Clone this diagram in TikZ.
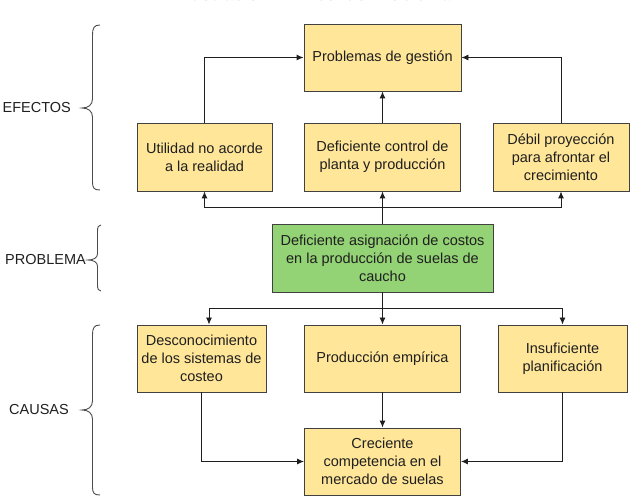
\documentclass[tikz,border=0pt]{standalone}
\usepackage{fontspec}
\setmainfont{Liberation Sans}
\usetikzlibrary{arrows.meta,calc}
\definecolor{boxy}{HTML}{FFE699}
\definecolor{boxg}{HTML}{93D275}
\definecolor{ink}{HTML}{1F1F1F}
\definecolor{ttl}{HTML}{808080}
\tikzset{
  box/.style={draw=ink!85, line width=0.9pt, fill=boxy, align=center, text=ink,
    font=\fontsize{14.5}{18}\selectfont, inner sep=2pt},
  gbox/.style={box, fill=boxg},
  arr/.style={draw=ink, line width=0.9pt, -{Latex[length=7pt,width=6pt]}},
  ln/.style={draw=ink, line width=0.9pt},
  lbl/.style={text=ink, font=\fontsize{14.5}{18}\selectfont, inner sep=0pt},
  brc/.style={draw=ink!80, line width=0.9pt},
}
\begin{document}
\begin{tikzpicture}[x=1pt,y=-1pt]
\useasboundingbox (0,0) rectangle (633,500);
\begin{scope}
\clip (0,0) rectangle (633,500);
\node[anchor=base, text=ttl, font=\fontsize{17.5}{20}\bfseries, inner sep=0pt] (title) at (316,0.8) {Ilustración 1. Árbol de Problema};
\end{scope}
% effects
\node[box, minimum width=157pt, minimum height=67pt] (pg) at (382.5,57.5) {Problemas de gestión};
\node[box, minimum width=135pt, minimum height=68pt] (ut) at (204.5,157) {Utilidad no acorde\\a la realidad};
\node[box, minimum width=156pt, minimum height=68pt] (dc) at (382.5,157) {Deficiente control de\\planta y producción};
\node[box, minimum width=136pt, minimum height=68pt] (db) at (561,157) {Débil proyección\\para afrontar el\\crecimiento};
% problem
\node[gbox, minimum width=221pt, minimum height=68pt] (pr) at (382.5,258) {Deficiente asignación de costos\\en la producción de suelas de\\caucho};
% causes
\node[box, minimum width=129pt, minimum height=67pt] (dsc) at (201.5,358.5) {Desconocimiento\\de los sistemas de\\costeo};
\node[box, minimum width=156pt, minimum height=67pt] (pe) at (382.5,358.5) {Producción empírica};
\node[box, minimum width=129pt, minimum height=67pt] (ins) at (562.5,358.5) {Insuficiente\\planificación};
\node[box, minimum width=156pt, minimum height=67pt] (cc) at (382.5,461.5) {Creciente\\competencia en el\\mercado de suelas};
% connectors top
\draw[arr] (ut.north) |- (pg.west);
\draw[arr] (db.north) |- (pg.east);
\draw[arr] (dc.north) -- (pg.south);
\coordinate (tb) at (382.5,207);
\draw[ln] (pr.north) -- (tb);
\draw[arr] (tb) -| (ut.south);
\draw[arr] (tb) -| (db.south);
\draw[arr] (tb) -- (dc.south);
% connectors bottom
\coordinate (bb) at (382.5,308);
\draw[ln] (pr.south) -- (bb);
\draw[arr] (bb) -| ([xshift=7.5pt]dsc.north);
\draw[arr] (bb) -| (ins.north);
\draw[arr] (bb) -- (pe.north);
\draw[arr] (dsc.south) |- (cc.west);
\draw[arr] (ins.south) |- (cc.east);
\draw[arr] (pe.south) -- (cc.north);
% braces and labels
\draw[brc] (100,25) .. controls (94,25) and (92.5,28) .. (92.5,35) -- (92.5,99) .. controls (92.5,105) and (88,108) .. (82,108) .. controls (88,108) and (92.5,111) .. (92.5,117) -- (92.5,182) .. controls (92.5,188) and (94,190) .. (100,190);
\node[lbl, anchor=east] (lef) at (71,108) {EFECTOS};
\draw[brc] (101,225) .. controls (98.5,225) and (97.5,227) .. (97.5,231) -- (97.5,254) .. controls (97.5,258) and (93,260) .. (88,260) .. controls (93,260) and (97.5,262) .. (97.5,266) -- (97.5,285) .. controls (97.5,289) and (98.5,291) .. (101,291);
\node[lbl, anchor=east] (lpr) at (86,260) {PROBLEMA};
\draw[brc] (100,325) .. controls (94,325) and (92.5,328) .. (92.5,335) -- (92.5,401) .. controls (92.5,407) and (88,410) .. (82,410) .. controls (88,410) and (92.5,413) .. (92.5,419) -- (92.5,487) .. controls (92.5,493) and (94,495) .. (100,495);
\node[lbl, anchor=east] (lca) at (69,410) {CAUSAS};
\end{tikzpicture}
\end{document}
